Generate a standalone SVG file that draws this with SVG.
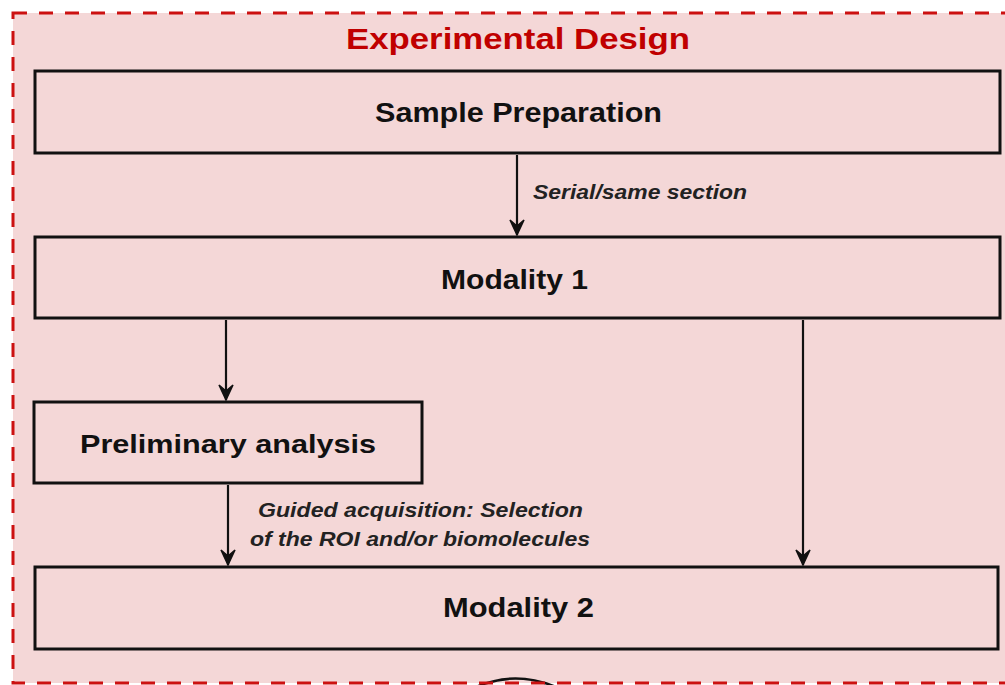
<svg xmlns="http://www.w3.org/2000/svg" width="1005" height="685" viewBox="0 0 1005 685">
<defs>
<style>
.box{fill:none;stroke:#111;stroke-width:3}
.lbl{font-family:"Liberation Sans",Arial,sans-serif;font-weight:bold;fill:#111}
.edge{stroke:#111;stroke-width:2.2;fill:none;marker-end:url(#ah)}
.elbl{font-family:"Liberation Sans",Arial,sans-serif;font-weight:bold;font-style:italic;fill:#222}
</style>
<marker id="ah" viewBox="-18 -10 20 20" refX="0" refY="0" markerWidth="20" markerHeight="20" markerUnits="userSpaceOnUse" orient="auto">
<path d="M0,0 L-15,-7 L-9,0 L-15,7 Z" fill="#111" stroke="#111" stroke-width="1.5" stroke-linejoin="miter"/>
</marker>
</defs>
<rect x="0" y="0" width="1005" height="685" fill="#ffffff"/>
<rect x="13" y="13" width="1010" height="670" fill="#f4d7d7"/>
<path d="M476,687 Q515,670 556,687" fill="none" stroke="#111" stroke-width="2.5"/>
<rect id="frame" x="13" y="13" width="1010" height="670" fill="none" stroke="#cc1111" stroke-width="3" stroke-dasharray="14 12"/>
<text x="346" y="49" font-family="Liberation Sans,Arial,sans-serif" font-weight="bold" font-size="30" fill="#c00000" textLength="344" lengthAdjust="spacingAndGlyphs">Experimental Design</text>
<g id="sample">
<rect class="box" x="35" y="71" width="965" height="82"/>
<text class="lbl" x="375" y="122" font-size="27" textLength="287" lengthAdjust="spacingAndGlyphs">Sample Preparation</text>
</g>
<g id="mod1">
<rect class="box" x="35" y="237" width="965" height="81"/>
<text class="lbl" x="441" y="289" font-size="28" textLength="147" lengthAdjust="spacingAndGlyphs">Modality 1</text>
</g>
<g id="prelim">
<rect class="box" x="34" y="402" width="388" height="81"/>
<text class="lbl" x="80" y="453" font-size="26" textLength="296" lengthAdjust="spacingAndGlyphs">Preliminary analysis</text>
</g>
<g id="mod2">
<rect class="box" x="35" y="567" width="963" height="82"/>
<text class="lbl" x="443" y="617" font-size="28" textLength="151" lengthAdjust="spacingAndGlyphs">Modality 2</text>
</g>
<g id="connectors">
<line class="edge" x1="517" y1="155" x2="517" y2="235"/>
<line class="edge" x1="226" y1="320" x2="226" y2="400"/>
<line class="edge" x1="228" y1="485" x2="228" y2="565"/>
<line class="edge" x1="803" y1="320" x2="803" y2="565"/>
<text class="elbl" x="533" y="199" font-size="21" textLength="214" lengthAdjust="spacingAndGlyphs">Serial/same section</text>
<text class="elbl" x="258" y="517" font-size="20" textLength="325" lengthAdjust="spacingAndGlyphs">Guided acquisition:  Selection</text>
<text class="elbl" x="250" y="546" font-size="20" textLength="340" lengthAdjust="spacingAndGlyphs">of the ROI and/or biomolecules</text>
</g>
</svg>
